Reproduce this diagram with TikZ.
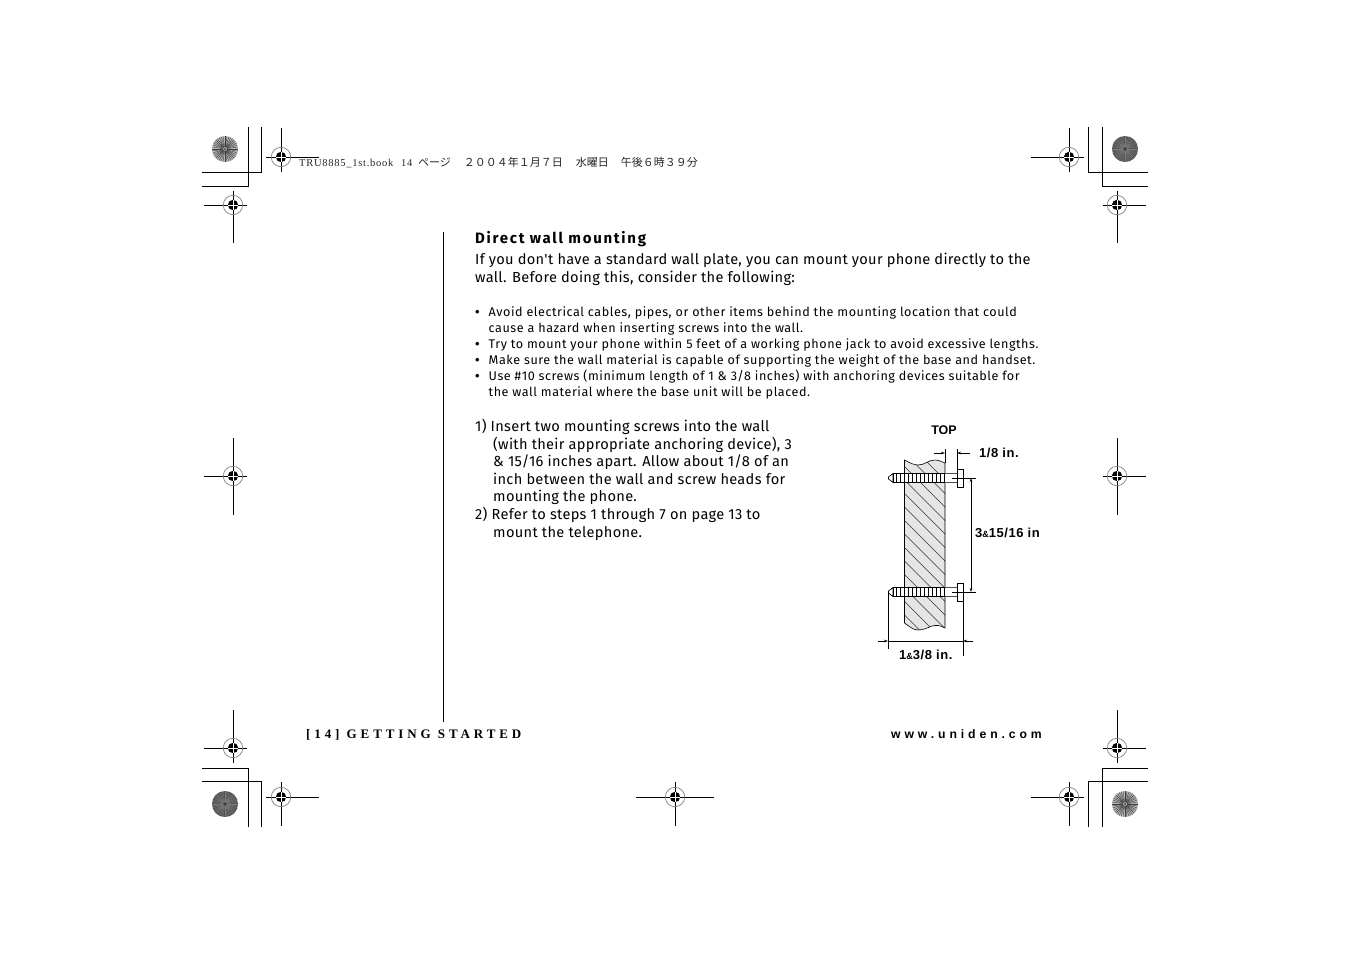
\documentclass[tikz,border=0pt]{standalone}
\usepackage{fontspec}
\newfontfamily\bodyfont[LetterSpace=2.1]{Fira Sans}
\newfontfamily\smallfont[LetterSpace=4.3]{Fira Sans}
\newfontfamily\titlefont[LetterSpace=11.5]{Fira Sans}
\newfontfamily\cjk{Noto Sans CJK JP}
\newfontfamily\slugfont[LetterSpace=7]{Liberation Serif}
\newfontfamily\headfont{Liberation Sans}
\newfontfamily\dimfont[LetterSpace=4]{Liberation Sans}
\newfontfamily\footfont[LetterSpace=30]{Liberation Serif}
\newfontfamily\wwwfont[LetterSpace=32]{Liberation Sans}
\usetikzlibrary{arrows.meta}
\tikzset{
    bodytext/.style={anchor=base west,inner sep=0pt,font=\bodyfont\fontsize{14.6}{18}\selectfont},
    smalltext/.style={anchor=base west,inner sep=0pt,font=\smallfont\fontsize{12.6}{16}\selectfont},
    dimtext/.style={inner sep=0pt,font=\dimfont\bfseries\fontsize{13}{14}\selectfont},
    regline/.style={black,line width=.9pt},
    cropline/.style={black,line width=.9pt},
    dimline/.style={black,line width=.7pt},
    wallshape/.style={insert path={(904.5,460) .. controls (910,463) and (914,465) .. (918,465)
        .. controls (925,465) and (928,460) .. (935,460) .. controls (939,460) and (942,462) .. (945,463) -- (945,628)
        .. controls (940,625) and (936,625) .. (932,626) .. controls (927,628) and (923,630) .. (918,630)
        .. controls (913,630) and (909,626) .. (904.5,623) -- cycle}},
}
% registration mark: centre, then ends of the cross
\newcommand{\regmark}[6]{
    \draw[regline] (#3,#2) -- (#4,#2) (#1,#5) -- (#1,#6);
    \draw[gray,line width=.7pt] (#1,#2) circle [radius=9.7];
    \fill[black] (#1,#2) circle [radius=5.2];
    \draw[white,line width=.8pt] (#1-5.2,#2) -- (#1+5.2,#2) (#1,#2-5.2) -- (#1,#2+5.2);
}
% colour target: centre, fill, spokes
\newcommand{\wheel}[4]{
    \fill[#3] (#1,#2) circle [radius=13];
    \foreach \a in {0,9,...,351}
        \draw[#4,line width=.4pt] (#1,#2) ++(\a:2) -- ++(\a:11);
    \fill[black!80] (#1,#2) circle [radius=1];
}
\begin{document}
\begin{tikzpicture}[x=1pt,y=-1pt]
    \useasboundingbox (0,0) rectangle (1351,954);
    \fill[white] (0,0) rectangle (1351,954);
    % crop marks
    \draw[cropline] (248,127) -- (248,186) -- (202,186) (261,127) -- (261,172) -- (202,172);
    \draw[cropline] (1088,127) -- (1088,172) -- (1148,172) (1102,127) -- (1102,186) -- (1148,186);
    \draw[cropline] (248,827) -- (248,768) -- (202,768) (261,827) -- (261,781) -- (202,781);
    \draw[cropline] (1088,827) -- (1088,781) -- (1148,781) (1102,827) -- (1102,768) -- (1148,768);
    \regmark{281}{157}{266}{319}{128}{172}
    \regmark{233}{205}{204}{247}{191}{243}
    \regmark{1069}{157}{1031}{1084}{128}{172}
    \regmark{1117}{205}{1103}{1146}{191}{243}
    \regmark{233}{476}{204}{247}{438}{515}
    \regmark{1117}{476}{1103}{1146}{438}{515}
    \regmark{233}{748}{204}{247}{710}{763}
    \regmark{281}{797}{266}{319}{782}{826}
    \regmark{675}{797}{636}{714}{782}{826}
    \regmark{1069}{797}{1031}{1084}{782}{826}
    \regmark{1117}{748}{1103}{1146}{710}{763}
    \wheel{225}{149}{black!28}{black!75}
    \wheel{1125}{149}{black!68}{black!52}
    \wheel{225}{804}{black!68}{black!52}
    \wheel{1125}{804}{black!28}{black!75}
    % slug line
    \node[anchor=base west,inner sep=0pt,text=black!85,font=\cjk\fontsize{11}{12}\selectfont] (slug) at (299,166)
        {\makebox[102pt][l]{\slugfont\fontsize{10.5}{11}\selectfont TRU8885\_1st.book}\makebox[17pt][l]{\slugfont\fontsize{10.5}{11}\selectfont 14}ページ\hspace{13pt}２００４年１月７日\hspace{13pt}水曜日\hspace{12pt}午後６時３９分};
    % rule
    \draw[black,line width=.9pt] (443,232) -- (443,722);
    % text
    \node[bodytext,font=\titlefont\bfseries\fontsize{15}{18}\selectfont] (title) at (475,243) {Direct wall mounting};
    \node[bodytext] (introa) at (475,264) {If you don't have a standard wall plate, you can mount your phone directly to the};
    \node[bodytext] (introb) at (475,282) {wall. Before doing this, consider the following:};
    \foreach \nm/\yy in {a/316,b/348,c/364,d/380}
        \node[smalltext,font=\headfont\fontsize{13}{16}\selectfont] (dot\nm) at (475,\yy) {•};
    \node[smalltext] (bulla) at (488.5,316) {Avoid electrical cables, pipes, or other items behind the mounting location that could};
    \node[smalltext] (bullb) at (488.5,332) {cause a hazard when inserting screws into the wall.};
    \node[smalltext] (bullc) at (488.5,348) {Try to mount your phone within 5 feet of a working phone jack to avoid excessive lengths.};
    \node[smalltext] (bulld) at (488.5,364) {Make sure the wall material is capable of supporting the weight of the base and handset.};
    \node[smalltext] (bulle) at (488.5,380) {Use \#10 screws (minimum length of 1 \& 3/8 inches) with anchoring devices suitable for};
    \node[smalltext] (bullf) at (488.5,396) {the wall material where the base unit will be placed.};
    \node[bodytext] (stepa) at (475,431) {1) Insert two mounting screws into the wall};
    \node[bodytext] (stepb) at (493,449) {(with their appropriate anchoring device), 3};
    \node[bodytext] (stepc) at (493,466) {\& 15/16 inches apart. Allow about 1/8 of an};
    \node[bodytext] (stepd) at (493,484) {inch between the wall and screw heads for};
    \node[bodytext] (stepe) at (493,501) {mounting the phone.};
    \node[bodytext] (stepf) at (475,519) {2) Refer to steps 1 through 7 on page 13 to};
    \node[bodytext] (stepg) at (493,537) {mount the telephone.};
    % wall
    \fill[black!10,wallshape];
    \begin{scope}
        \clip[wallshape];
        \foreach \c in {0,1,...,15}
            \draw[black!80,line width=.45pt] (890,425+13.5*\c) -- (960,495+13.5*\c);
    \end{scope}
    \draw[black,line width=.6pt,wallshape];
    % screws
    \foreach \sy in {478,592} {
        \fill[white] (944,\sy-4.5) rectangle (957,\sy+4.5);
        \draw[black!70,line width=.7pt] (944,\sy-4.5) -- (957,\sy-4.5) (944,\sy+4.5) -- (957,\sy+4.5);
        \draw[black,line width=.7pt,fill=white] (893,\sy-4.5) -- (888.5,\sy-1) -- (888.5,\sy+1) -- (893,\sy+4.5) -- cycle;
        \draw[black,line width=.7pt,fill=white] (893,\sy-4.5) rectangle (944,\sy+4.5);
        \foreach \t in {0,1,...,11}
            \draw[black,line width=.9pt] (896+4*\t,\sy-4.5) -- (896+4*\t,\sy+4.5);
        \draw[black,line width=.8pt,fill=white] (957,\sy-9) rectangle (963,\sy+9);
    }
    % dimensions
    \coordinate (inA) at (945,453);
    \coordinate (inB) at (957,453);
    \draw[dimline] (945,449) -- (945,463) (957,449) -- (957,469);
    \draw[dimline,-{Stealth[length=4pt,width=2.5pt]}] (934,453) -- (inA);
    \draw[dimline,-{Stealth[length=4pt,width=2.5pt]}] (970,453) -- (inB);
    \draw[dimline] (952,478) -- (976,478) (952,592) -- (976,592);
    \draw[dimline,{Stealth[length=4pt,width=2.5pt]}-{Stealth[length=4pt,width=2.5pt]}] (971,478) -- (971,592);
    \draw[dimline] (888,592) -- (888,649) (963,601) -- (963,656);
    \draw[dimline,{Stealth[length=4pt,width=2.5pt]}-] (888,641) -- (878,641);
    \draw[dimline] (888,641) -- (963,641);
    \draw[dimline,{Stealth[length=4pt,width=2.5pt]}-] (963,641) -- (973,641);
    \node[dimtext,font=\headfont\bfseries\fontsize{12.5}{14}\selectfont] (top) at (944,430.5) {TOP};
    \node[dimtext,anchor=west] (gap) at (979,453) {1/8 in.};
    \node[dimtext,anchor=west] (span) at (975,533) {3{\fontsize{9}{10}\selectfont\&}15/16 in};
    \node[dimtext,anchor=west] (len) at (899,654.5) {1{\fontsize{9}{10}\selectfont\&}3/8 in.};
    % footer
    \node[anchor=base west,inner sep=0pt,font=\footfont\bfseries\fontsize{13}{14}\selectfont] (footl) at (306,738.5)
        {[14] GETTING STARTED};
    \node[anchor=base east,inner sep=0pt,font=\wwwfont\bfseries\fontsize{12.2}{14}\selectfont] (footr) at (1042,738.5)
        {www.uniden.com};
\end{tikzpicture}
\end{document}
